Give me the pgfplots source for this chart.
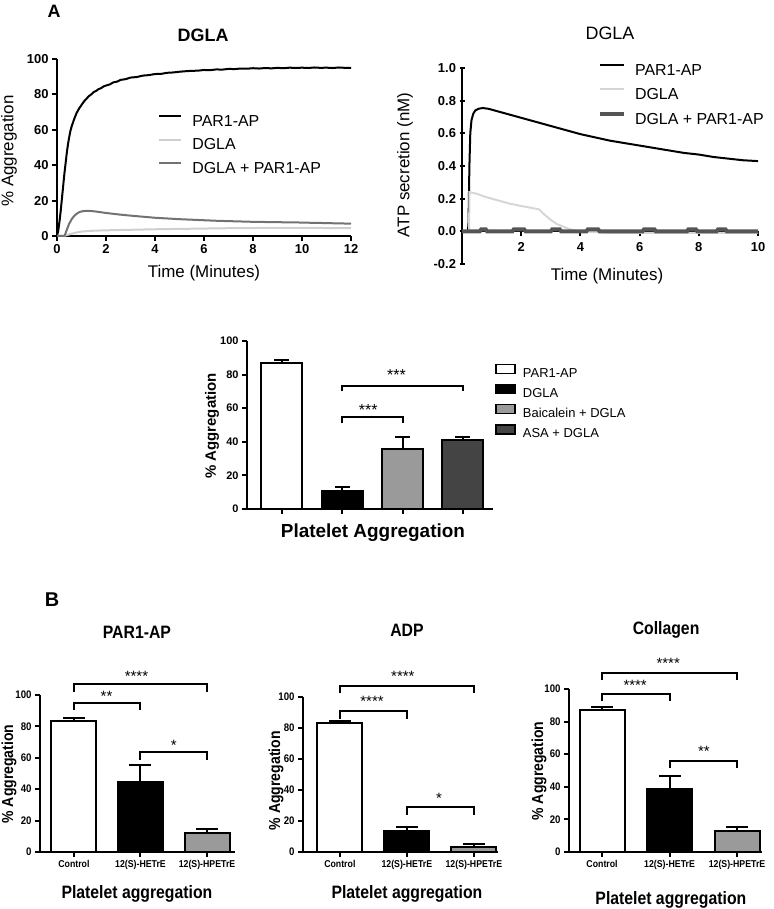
\documentclass[border=0pt]{standalone}
\usepackage{pgfplots}
\pgfplotsset{compat=1.18}
\usepackage{fontspec}
\setmainfont{Liberation Sans}
\newfontfamily\narrowfont[FakeStretch=0.88]{Liberation Sans}
\definecolor{lgray}{HTML}{CFCFCF}
\definecolor{mgray}{HTML}{727272}
\definecolor{dgray}{HTML}{555555}
\definecolor{bgray}{HTML}{9A9A9A}
\definecolor{bdark}{HTML}{444444}
\newcommand{\fs}[1]{\fontsize{#1}{#1}\selectfont}
\tikzset{stars/.style={font=\fs{15}, inner sep=0pt, yshift=-3.3bp}}
\pgfplotsset{
  gp/.style={scale only axis, anchor=south west, axis lines=left,
    axis line style={-, line width=2bp, black},
    tick style={line width=2bp, black}, tick align=outside, major tick length=5bp,
    minor tick num=0, enlargelimits=false, clip=false, every axis title shift=0pt,
    /pgf/number format/assume math mode=true, scaled ticks=false},
  brk/.style={black, line width=2bp, forget plot, mark=none},
}
\begin{document}
\begin{tikzpicture}
\useasboundingbox (0bp,0bp) rectangle (774bp,909bp);
\node[font=\bfseries\fs{18}] at (54bp,898bp) {A};
\node[font=\bfseries\fs{20}] at (52bp,309bp) {B};

% ---------- A left ----------
\begin{axis}[gp, at={(57bp,673bp)}, width=294bp, height=177bp,
 xmin=0, xmax=12, ymin=0, ymax=100, xtick={0,2,...,12}, ytick={0,20,...,100},
 ticklabel style={font=\bfseries\fs{13}},
 xlabel={Time (Minutes)}, ylabel={\% Aggregation},
 xlabel style={at={(axis description cs:0.5,-0.212)}, anchor=center, font=\fs{17}},
 ylabel style={at={(axis description cs:-0.163,0.48)}, anchor=center, font=\fs{17}},
 title={DGLA}, title style={at={(axis description cs:0.497,1.136)}, anchor=center, font=\bfseries\fs{18}},
 legend style={at={(axis description cs:0.344,0.514)}, anchor=west, draw=none, fill=none,
   font=\fs{16}, inner sep=0pt, row sep=10.5bp, nodes={inner sep=0pt}},
 legend cell align=left,
 legend image code/.code={\draw[#1] (0bp,5.5bp) -- (22bp,5.5bp); \path[draw=none,fill=none] (0bp,0bp) rectangle (33bp,0.1bp);},
]
\addplot[black, line width=2bp] coordinates {
(0,0) (0.05,3) (0.1,8) (0.15,14) (0.2,21) (0.25,28) (0.3,35) (0.35,41) (0.4,47) (0.45,52)
(0.5,56) (0.55,59.5) (0.6,62) (0.7,66) (0.8,69.5) (0.9,72) (1.0,74) (1.1,76) (1.2,77.5)
(1.3,79) (1.4,80) (1.5,81.3) (1.6,82) (1.7,83) (1.8,83.5) (1.9,84.5) (2.0,85) (2.15,85.6)
(2.3,86.8) (2.45,87.2) (2.6,88.2) (2.8,88.6) (3.0,89.5) (3.25,89.8) (3.5,90.6) (3.75,90.9)
(4.0,91.5) (4.25,91.6) (4.5,92.2) (4.75,92.4) (5,92.8) (5.25,93.1) (5.5,93.3) (5.75,93.4)
(6,93.8) (6.25,93.7) (6.5,94.1) (6.75,94) (7,94.4) (7.25,94.3) (7.5,94.6) (7.75,94.5)
(8,94.8) (8.25,94.6) (8.5,94.9) (8.75,94.7) (9,95) (9.25,94.8) (9.5,95.1) (9.75,94.9)
(10,95.1) (10.25,94.9) (10.5,95.2) (10.75,95) (11,95.1) (11.25,94.9) (11.5,95.2) (11.75,95) (12,95)};
\addlegendentry{PAR1-AP}
\addplot[lgray, line width=2bp] coordinates {
(0,0) (0.3,0) (0.4,0.5) (0.6,1.3) (0.8,2.0) (1.0,2.5) (1.5,3.0) (2,3.2) (3,3.5) (4,3.8)
(5,4.0) (6,4.2) (7,4.4) (8,4.5) (9,4.6) (10,4.6) (11,4.5) (12,4.5)};
\addlegendentry{DGLA}
\addplot[mgray, line width=2bp] coordinates {
(0,0) (0.3,0) (0.35,1.5) (0.4,3.5) (0.5,7) (0.6,9.5) (0.7,11.3) (0.8,12.5) (0.9,13.4)
(1.0,13.9) (1.2,14.2) (1.4,14.1) (1.6,13.8) (1.8,13.4) (2.0,13.0) (2.5,12.2) (3,11.5)
(3.5,10.9) (4,10.3) (4.5,9.9) (5,9.5) (5.5,9.2) (6,8.9) (6.5,8.6) (7,8.4) (7.5,8.2)
(8,8.0) (8.5,7.9) (9,7.8) (9.5,7.7) (10,7.6) (10.5,7.4) (11,7.3) (11.5,7.1) (12,7.0)};
\addlegendentry{DGLA + PAR1-AP}
\end{axis}

% ---------- A right ----------
\begin{axis}[gp, axis x line=middle, axis y line=left, at={(462bp,645bp)}, width=296bp, height=196bp,
 x axis line style={-}, y axis line style={-},
 xmin=0, xmax=10, ymin=-0.2, ymax=1.0, xtick={2,4,...,10}, ytick={-0.2,0,0.2,0.4,0.6,0.8,1.0},
 xtick align=center, x tick style={yshift=-2.5bp},
 yticklabel style={/pgf/number format/.cd, fixed, fixed zerofill, precision=1},
 ticklabel style={font=\bfseries\fs{13}},
 xticklabel style={yshift=-5bp},
 xlabel={Time (Minutes)}, ylabel={ATP secretion (nM)},
 xlabel style={at={(axis description cs:0.49,-0.062)}, anchor=center, font=\fs{17}},
 ylabel style={at={(axis description cs:-0.193,0.505)}, anchor=center, font=\fs{17}},
 title={DGLA}, title style={at={(axis description cs:0.5,1.179)}, anchor=center, font=\fs{18}},
 legend style={at={(axis description cs:0.459,0.862)}, anchor=west, draw=none, fill=none,
   font=\fs{16}, inner sep=0pt, row sep=11.5bp, nodes={inner sep=0pt}},
 legend cell align=left,
 legend image code/.code={\draw[#1] (0bp,5.5bp) -- (24bp,5.5bp); \path[draw=none,fill=none] (0bp,0bp) rectangle (35bp,0.1bp);},
]
\addplot[black, line width=2bp] coordinates {
(0,0) (0.2,0) (0.22,0.05) (0.25,0.4) (0.28,0.6) (0.32,0.68) (0.38,0.72) (0.45,0.74)
(0.55,0.75) (0.7,0.755) (0.9,0.75) (1.1,0.74) (1.3,0.73) (1.6,0.715) (2,0.695) (2.5,0.67)
(3,0.645) (3.5,0.62) (4,0.595) (4.5,0.575) (5,0.555) (5.5,0.54) (6,0.525) (6.5,0.51)
(7,0.495) (7.5,0.48) (8,0.47) (8.5,0.455) (9,0.445) (9.5,0.435) (10,0.43)};
\addlegendentry{PAR1-AP}
\addplot[lgray!85, line width=2bp] coordinates {
(0,0) (0.24,0) (0.25,0.24) (0.5,0.23) (0.8,0.21) (1.2,0.19) (1.6,0.17) (2.0,0.155)
(2.6,0.135) (2.8,0.1) (3.0,0.07) (3.2,0.045) (3.4,0.03) (3.6,0.015) (3.8,0.005) (4.0,0)
(5,-0.01) (6,-0.01) (7,-0.01) (8,-0.01) (10,-0.01)};
\addlegendentry{DGLA}
\addplot[dgray, line width=4bp] coordinates {
(0,0) (0.6,0) (0.65,0.012) (0.8,0.012) (0.85,0) (1.7,0) (1.75,0.012) (2.1,0.012) (2.15,0)
(3.0,0) (3.05,0.012) (3.3,0.012) (3.35,0) (4.2,0) (4.25,0.012) (4.6,0.012) (4.65,0)
(6.1,0) (6.15,0.012) (6.5,0.012) (6.55,0) (7.6,0) (7.65,0.012) (7.9,0.012) (7.95,0)
(8.6,0) (8.65,0.012) (8.9,0.012) (8.95,0) (10,0)};
\addlegendentry{DGLA + PAR1-AP}
\end{axis}

% ---------- middle bar chart ----------
\pgfplotsset{mbar/.style={ybar, bar shift=0pt, bar width=41bp, draw=black, line width=2bp,
   error bars/.cd, y dir=plus, y explicit, error mark=|,
   error bar style={line width=2bp, black},
   error mark options={line width=2bp, mark size=7.5bp, black},
   /pgfplots/.cd,
   legend image code/.code={\draw[##1, line width=1.6bp] (0bp,0bp) rectangle (19bp,9bp); \path[draw=none,fill=none] (0bp,0bp) rectangle (27bp,0.1bp);}}}
\begin{axis}[gp, at={(247bp,400bp)}, width=246bp, height=168bp,
 xmin=-0.58, xmax=3.5, ymin=0, ymax=100, xtick={0,1,2,3}, xticklabels={}, ytick={0,20,...,100},
 ticklabel style={font=\bfseries\fs{11}},
 xlabel={Platelet Aggregation}, ylabel={\% Aggregation},
 xlabel style={at={(axis description cs:0.512,-0.14)}, anchor=center, font=\bfseries\fs{19}},
 ylabel style={at={(axis description cs:-0.142,0.494)}, anchor=center, font=\bfseries\fs{15}},
 legend style={at={(axis description cs:1.008,0.64)}, anchor=west, draw=none, fill=none,
   font=\fs{13}, inner sep=0pt, row sep=5bp, nodes={inner sep=0pt}},
 legend cell align=left,
]
\addplot[mbar, fill=white] coordinates {(0,86.9) +- (0,1.6)};
\addlegendentry{PAR1-AP}
\addplot[mbar, fill=black] coordinates {(1,10.7) +- (0,2.3)};
\addlegendentry{DGLA}
\addplot[mbar, fill=bgray] coordinates {(2,35.7) +- (0,7.3)};
\addlegendentry{Baicalein + DGLA}
\addplot[mbar, fill=bdark] coordinates {(3,41.2) +- (0,1.5)};
\addlegendentry{ASA + DGLA}
\addplot[brk] coordinates {(1,70) (1,73) (3,73) (3,70)};
\addplot[brk] coordinates {(1,51) (1,55) (2,55) (2,51)};
\node[font=\fs{16}, inner sep=0pt, yshift=-3.5bp] at (axis cs:1.9,82) {***};
\node[font=\fs{16}, inner sep=0pt, yshift=-3.5bp] at (axis cs:1.43,61) {***};
\end{axis}

% ---------- B panels ----------
\pgfplotsset{
 bbar/.style={ybar, bar shift=0pt, bar width=45bp, draw=black, line width=2bp,
   error bars/.cd, y dir=plus, y explicit, error mark=|,
   error bar style={line width=2bp, black},
   error mark options={line width=2bp, mark size=11bp, black},
   /pgfplots/.cd},
 baxis/.style={gp, ymin=0, ymax=100, xtick={0,1,2}, ytick={0,20,...,100},
   xticklabels={Control,12(S)-HETrE,12(S)-HPETrE},
   xticklabel style={font=\narrowfont\bfseries\fs{10}},
   yticklabel style={font=\narrowfont\bfseries\fs{11}},
   xlabel={Platelet aggregation}, ylabel={\% Aggregation},
   xlabel style={anchor=center, font=\narrowfont\bfseries\fs{18}},
   ylabel style={anchor=center, font=\narrowfont\bfseries\fs{16}},
   title style={anchor=center, font=\narrowfont\bfseries\fs{18}}},
}
\begin{axis}[baxis, at={(40bp,57bp)}, width=195bp, height=157bp, xmin=-0.51, xmax=2.42,
 title={PAR1-AP}, title style={at={(axis description cs:0.497,1.40)}},
 xlabel style={at={(axis description cs:0.497,-0.268)}},
 ylabel style={at={(axis description cs:-0.159,0.497)}}]
\addplot[bbar, fill=white] coordinates {(0,83.7) +- (0,1.6)};
\addplot[bbar, fill=black] coordinates {(1,44.7) +- (0,10.6)};
\addplot[bbar, fill=bgray] coordinates {(2,11.8) +- (0,3.1)};
\addplot[brk] coordinates {(0,102) (0,107) (2,107) (2,102)};
\addplot[brk] coordinates {(0,90.5) (0,95) (1,95) (1,90.5)};
\addplot[brk] coordinates {(1,58.6) (1,64) (2,64) (2,58.6)};
\node[stars] at (axis cs:0.94,114) {****};
\node[stars] at (axis cs:0.49,101) {**};
\node[stars] at (axis cs:1.5,70) {*};
\end{axis}

\begin{axis}[baxis, at={(303bp,57bp)}, width=195bp, height=155bp, xmin=-0.55, xmax=2.36,
 title={ADP}, title style={at={(axis description cs:0.533,1.432)}},
 xlabel style={at={(axis description cs:0.533,-0.271)}},
 ylabel style={at={(axis description cs:-0.138,0.46)}}]
\addplot[bbar, fill=white] coordinates {(0,83.2) +- (0,1.0)};
\addplot[bbar, fill=black] coordinates {(1,13.3) +- (0,2.8)};
\addplot[bbar, fill=bgray] coordinates {(2,3.2) +- (0,1.7)};
\addplot[brk] coordinates {(0,102.5) (0,107) (2,107) (2,102.5)};
\addplot[brk] coordinates {(0,86) (0,91) (1,91) (1,86)};
\addplot[brk] coordinates {(1,24) (1,29) (2,29) (2,24)};
\node[stars] at (axis cs:0.94,115.5) {****};
\node[stars] at (axis cs:0.48,99) {****};
\node[stars] at (axis cs:1.48,37) {*};
\end{axis}

\begin{axis}[baxis, at={(569bp,57bp)}, width=193bp, height=163bp, xmin=-0.49, xmax=2.37,
 title={Collagen}, title style={at={(axis description cs:0.503,1.36)}},
 xlabel style={at={(axis description cs:0.528,-0.294)}},
 ylabel style={at={(axis description cs:-0.155,0.497)}}]
\addplot[bbar, fill=white] coordinates {(0,87.4) +- (0,1.3)};
\addplot[bbar, fill=black] coordinates {(1,38.4) +- (0,8.2)};
\addplot[bbar, fill=bgray] coordinates {(2,12.9) +- (0,2.5)};
\addplot[brk] coordinates {(0,105.7) (0,110) (2,110) (2,105.7)};
\addplot[brk] coordinates {(0,92.4) (0,97) (1,97) (1,92.4)};
\addplot[brk] coordinates {(1,51.3) (1,55.9) (2,55.9) (2,51.3)};
\node[stars] at (axis cs:0.98,118) {****};
\node[stars] at (axis cs:0.49,104) {****};
\node[stars] at (axis cs:1.51,64) {**};
\end{axis}
\end{tikzpicture}
\end{document}
